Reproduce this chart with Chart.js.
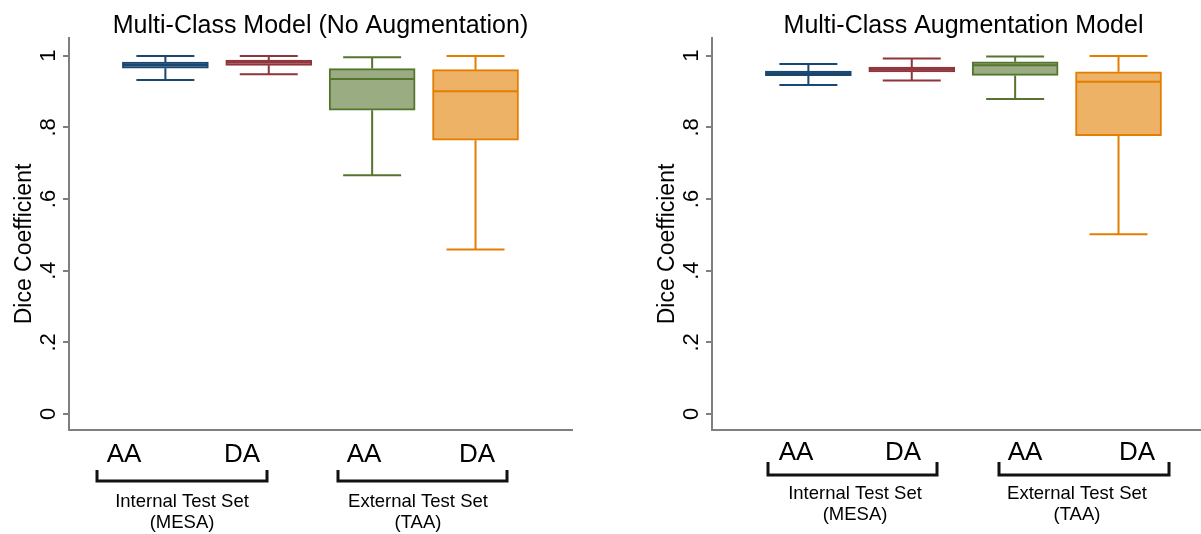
<!DOCTYPE html>
<html><head><meta charset="utf-8">
<script src="https://cdn.jsdelivr.net/npm/chart.js@4.4.1/dist/chart.umd.min.js"></script>
<style>
html,body{margin:0;padding:0;background:#fff;overflow:hidden;width:1201px;height:534px;}
#wrapL{position:absolute;left:0;top:0;width:600px;height:534px;}
#wrapR{position:absolute;left:600px;top:0;width:640px;height:534px;}
</style></head><body>
<div id="wrapL"><canvas id="cL" width="600" height="534"></canvas></div>
<div id="wrapR"><canvas id="cR" width="640" height="534"></canvas></div>
<script>
// ---------- data ----------
const categories = ['AA', 'DA', 'AA', 'DA'];
const groupLabels = [['Internal Test Set', '(MESA)'], ['External Test Set', '(TAA)']];
const yTickValues = [0, 0.2, 0.4, 0.6, 0.8, 1];
const yTickLabels = ['0', '.2', '.4', '.6', '.8', '1'];
const yAxisTitle = 'Dice Coefficient';

const titleNoAug = 'Multi-Class Model (No Augmentation)';
const noAugMin    = [0.932, 0.948, 0.666, 0.459];
const noAugQ1     = [0.965, 0.973, 0.848, 0.764];
const noAugMedian = [0.974, 0.982, 0.935, 0.901];
const noAugQ3     = [0.982, 0.988, 0.964, 0.961];
const noAugMax    = [0.999, 0.999, 0.996, 0.999];

const titleAug = 'Multi-Class Augmentation Model';
const augMin    = [0.918, 0.931, 0.879, 0.502];
const augQ1     = [0.944, 0.955, 0.945, 0.777];
const augMedian = [0.951, 0.962, 0.973, 0.927];
const augQ3     = [0.957, 0.968, 0.983, 0.955];
const augMax    = [0.977, 0.992, 0.998, 0.999];

// ---------- styles ----------
const lineColors = ['#1a476f', '#90353b', '#55752f', '#e37e00'];
const fillColors = ['#7691a9', '#bc8689', '#99ac82', '#eeb266'];
const axisColor = '#7f7f7f';
const FONT = "'Liberation Sans', Arial, Helvetica, sans-serif";

function boxPlugin(stats) {
  return {
    id: 'boxWhiskers',
    beforeDatasetsDraw(chart) {
      const ctx = chart.ctx, xs = chart.scales.x, ys = chart.scales.y;
      ctx.save();
      ctx.lineWidth = 2;
      stats.min.forEach((_, i) => {
        const xp = xs.getPixelForValue(i);
        ctx.strokeStyle = lineColors[i];
        ctx.beginPath();
        ctx.moveTo(xp, ys.getPixelForValue(stats.q3[i]));
        ctx.lineTo(xp, ys.getPixelForValue(stats.max[i]));
        ctx.moveTo(xp, ys.getPixelForValue(stats.q1[i]));
        ctx.lineTo(xp, ys.getPixelForValue(stats.min[i]));
        const capHalf = 29;
        ctx.moveTo(xp - capHalf, ys.getPixelForValue(stats.max[i]));
        ctx.lineTo(xp + capHalf, ys.getPixelForValue(stats.max[i]));
        ctx.moveTo(xp - capHalf, ys.getPixelForValue(stats.min[i]));
        ctx.lineTo(xp + capHalf, ys.getPixelForValue(stats.min[i]));
        ctx.stroke();
      });
      ctx.restore();
    },
    afterDatasetsDraw(chart) {
      const ctx = chart.ctx, xs = chart.scales.x, ys = chart.scales.y;
      ctx.save();
      ctx.lineWidth = 2;
      stats.median.forEach((m, i) => {
        const xp = xs.getPixelForValue(i);
        const yp = ys.getPixelForValue(m);
        ctx.strokeStyle = lineColors[i];
        ctx.beginPath();
        ctx.moveTo(xp - 42, yp);
        ctx.lineTo(xp + 42, yp);
        ctx.stroke();
      });
      ctx.restore();
    }
  };
}

function textPlugin(title, L) {
  return {
    id: 'texts',
    afterDraw(chart) {
      const ctx = chart.ctx, ca = chart.chartArea, ys = chart.scales.y;
      ctx.save();
      ctx.fillStyle = '#000';
      // title
      ctx.font = '25px ' + FONT;
      ctx.textAlign = 'center';
      ctx.textBaseline = 'alphabetic';
      ctx.fillText(title, (ca.left + ca.right) / 2, 33);
      // y tick labels (rotated)
      ctx.font = '22px ' + FONT;
      yTickValues.forEach((v, i) => {
        ctx.save();
        ctx.translate(L.tickX, ys.getPixelForValue(v));
        ctx.rotate(-Math.PI / 2);
        ctx.textAlign = 'center';
        ctx.fillText(yTickLabels[i], 0, 0);
        ctx.restore();
      });
      // axis title
      ctx.save();
      ctx.font = '23px ' + FONT;
      ctx.translate(L.axisTitleX, L.axisTitleY);
      ctx.rotate(-Math.PI / 2);
      ctx.textAlign = 'center';
      ctx.fillText(yAxisTitle, 0, 0);
      ctx.restore();
      // category labels
      ctx.font = '26px ' + FONT;
      ctx.textAlign = 'center';
      categories.forEach((c, i) => ctx.fillText(c, L.catX[i], L.catY));
      // brackets
      ctx.strokeStyle = '#111';
      ctx.lineWidth = 3;
      L.brackets.forEach(b => {
        ctx.beginPath();
        ctx.moveTo(b[0], L.brTop);
        ctx.lineTo(b[0], L.brBot);
        ctx.lineTo(b[1], L.brBot);
        ctx.lineTo(b[1], L.brTop);
        ctx.stroke();
      });
      // group labels
      ctx.font = '18.5px ' + FONT;
      groupLabels.forEach((g, i) => {
        ctx.fillText(g[0], L.groupX[i], L.groupY[0]);
        ctx.fillText(g[1], L.groupX[i], L.groupY[1]);
      });
      ctx.restore();
    }
  };
}

function makeChart(id, title, stats, L) {
  const data = categories.map((c, i) => ({ x: i, y: [stats.q1[i], stats.q3[i]] }));
  return new Chart(document.getElementById(id), {
    type: 'bar',
    data: {
      datasets: [{
        data: data,
        backgroundColor: fillColors,
        borderColor: lineColors,
        borderWidth: 2,
        borderSkipped: false,
        barThickness: 86
      }]
    },
    options: {
      responsive: false,
      animation: false,
      devicePixelRatio: 1,
      layout: { padding: { left: 0, top: 38, right: L.padRight, bottom: 104 } },
      plugins: { legend: { display: false }, tooltip: { enabled: false }, title: { display: false } },
      scales: {
        x: {
          type: 'linear', min: -0.662, max: 3.663,
          ticks: { display: false },
          grid: { display: false },
          border: { display: true, color: axisColor, width: 2 },
          afterFit: s => { s.height = 0; }
        },
        y: {
          type: 'linear', min: -0.0447, max: 1.0494,
          afterBuildTicks: s => { s.ticks = yTickValues.map(v => ({ value: v })); },
          ticks: { display: false },
          grid: { display: true, drawOnChartArea: false, drawTicks: true, tickLength: 6, color: axisColor, lineWidth: 2 },
          border: { display: true, color: axisColor, width: 2 },
          afterFit: s => { s.width = L.axisW; }
        }
      }
    },
    plugins: [boxPlugin(stats), textPlugin(title, L)]
  });
}

const OFF = 600;
makeChart('cL', titleNoAug,
  { min: noAugMin, q1: noAugQ1, median: noAugMedian, q3: noAugQ3, max: noAugMax },
  { axisW: 69, padRight: 28, tickX: 55, axisTitleX: 31, axisTitleY: 244,
    catX: [124, 242, 364, 477], catY: 462,
    brackets: [[97, 267], [338, 507]], brTop: 470, brBot: 481,
    groupX: [182, 418], groupY: [507, 528] });

makeChart('cR', titleAug,
  { min: augMin, q1: augQ1, median: augMedian, q3: augQ3, max: augMax },
  { axisW: 112, padRight: 25, tickX: 698 - OFF, axisTitleX: 674 - OFF, axisTitleY: 244,
    catX: [796 - OFF, 903 - OFF, 1025 - OFF, 1137 - OFF], catY: 460,
    brackets: [[768 - OFF, 937 - OFF], [999 - OFF, 1169 - OFF]], brTop: 462, brBot: 475,
    groupX: [855 - OFF, 1077 - OFF], groupY: [499, 520] });
</script>
</body></html>
